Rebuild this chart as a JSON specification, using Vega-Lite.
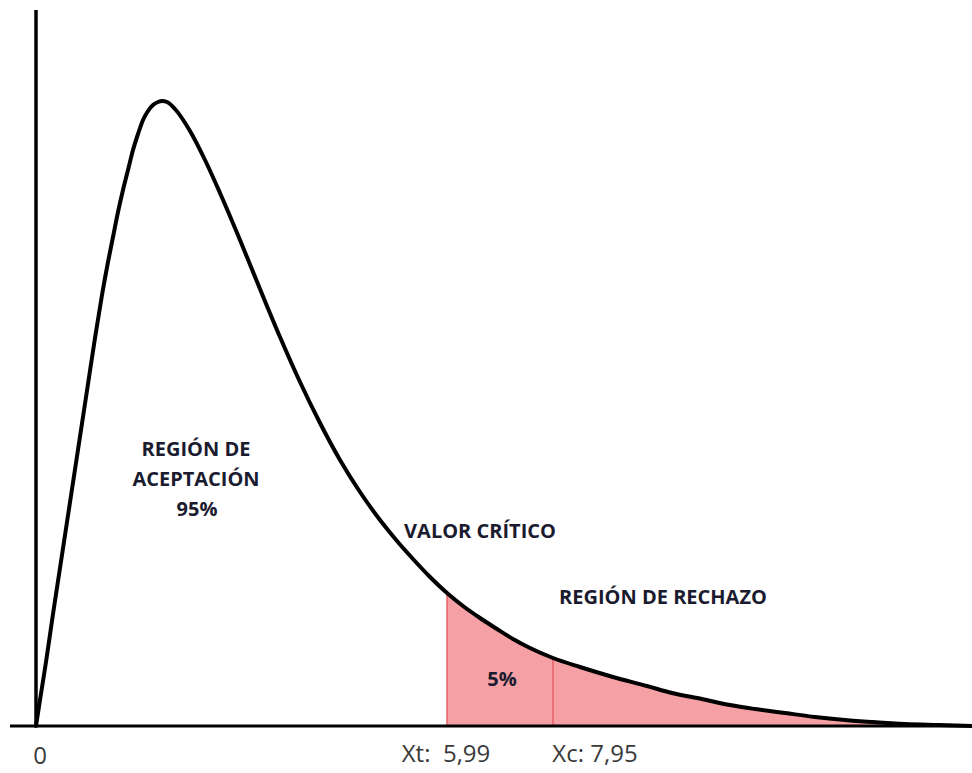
{
  "$schema": "https://vega.github.io/schema/vega-lite/v6.json",
  "width": 936,
  "height": 716,
  "autosize": {"type": "none"},
  "padding": {"left": 36, "top": 10, "right": 0, "bottom": 47},
  "background": "white",
  "config": {"view": {"stroke": null}},
  "datasets": {
    "curve": [
      {"x": 0, "y": 0},
      {"x": 0.04, "y": 0.26},
      {"x": 0.10, "y": 0.64},
      {"x": 0.17, "y": 1.12},
      {"x": 0.24, "y": 1.58},
      {"x": 0.31, "y": 2.04},
      {"x": 0.38, "y": 2.50},
      {"x": 0.45, "y": 2.96},
      {"x": 0.52, "y": 3.42},
      {"x": 0.59, "y": 3.88},
      {"x": 0.66, "y": 4.31},
      {"x": 0.72, "y": 4.64},
      {"x": 0.77, "y": 4.89},
      {"x": 0.82, "y": 5.14},
      {"x": 0.87, "y": 5.36},
      {"x": 0.92, "y": 5.56},
      {"x": 0.97, "y": 5.76},
      {"x": 1.02, "y": 5.92},
      {"x": 1.07, "y": 6.06},
      {"x": 1.12, "y": 6.15},
      {"x": 1.17, "y": 6.21},
      {"x": 1.22, "y": 6.24},
      {"x": 1.26, "y": 6.25},
      {"x": 1.31, "y": 6.24},
      {"x": 1.39, "y": 6.17},
      {"x": 1.54, "y": 5.95},
      {"x": 1.69, "y": 5.66},
      {"x": 1.84, "y": 5.33},
      {"x": 2.04, "y": 4.86},
      {"x": 2.24, "y": 4.37},
      {"x": 2.44, "y": 3.89},
      {"x": 2.64, "y": 3.44},
      {"x": 2.84, "y": 3.03},
      {"x": 3.04, "y": 2.66},
      {"x": 3.24, "y": 2.34},
      {"x": 3.44, "y": 2.06},
      {"x": 3.61, "y": 1.85},
      {"x": 3.77, "y": 1.67},
      {"x": 3.94, "y": 1.49},
      {"x": 4.11, "y": 1.33},
      {"x": 4.27, "y": 1.20},
      {"x": 4.44, "y": 1.08},
      {"x": 4.61, "y": 0.97},
      {"x": 4.77, "y": 0.87},
      {"x": 4.94, "y": 0.78},
      {"x": 5.17, "y": 0.68},
      {"x": 5.44, "y": 0.59},
      {"x": 5.77, "y": 0.49},
      {"x": 6.11, "y": 0.40},
      {"x": 6.36, "y": 0.33},
      {"x": 6.66, "y": 0.27},
      {"x": 6.94, "y": 0.21},
      {"x": 7.19, "y": 0.17},
      {"x": 7.49, "y": 0.13},
      {"x": 7.79, "y": 0.09},
      {"x": 8.09, "y": 0.06},
      {"x": 8.36, "y": 0.04},
      {"x": 8.69, "y": 0.02},
      {"x": 9.03, "y": 0.01},
      {"x": 9.36, "y": 0.0}
    ],
    "cuts": [
      {"x": 4.11, "y": 1.33},
      {"x": 5.17, "y": 0.68}
    ],
    "notes": [
      {"x": 1.6, "y": 2.76, "label": "REGIÓN DE"},
      {"x": 1.6, "y": 2.46, "label": "ACEPTACIÓN"},
      {"x": 1.61, "y": 2.16, "label": "95%"},
      {"x": 4.44, "y": 1.94, "label": "VALOR CRÍTICO"},
      {"x": 6.27, "y": 1.28, "label": "REGIÓN DE RECHAZO"},
      {"x": 4.66, "y": 0.46, "label": "5%"}
    ],
    "ticks": [
      {"x": 0.04, "y": -0.31, "label": "0"},
      {"x": 4.1, "y": -0.29, "label": "Xt:\u00a0 5,99"},
      {"x": 5.59, "y": -0.29, "label": "Xc: 7,95"}
    ],
    "one": [{}]
  },
  "layer": [
    {
      "data": {"name": "curve"},
      "transform": [{"filter": "datum.x >= 4.11"}],
      "mark": {"type": "area", "color": "#f5a0a5", "opacity": 1, "interpolate": "monotone"},
      "encoding": {
        "x": {"field": "x", "type": "quantitative", "scale": {"domain": [0, 9.36], "nice": false, "zero": false}, "axis": null},
        "y": {"field": "y", "type": "quantitative", "scale": {"domain": [0, 7.16], "nice": false, "zero": false}, "axis": null},
        "y2": {"datum": 0}
      }
    },
    {
      "data": {"name": "cuts"},
      "mark": {"type": "rule", "color": "#e8606a", "strokeWidth": 1.5},
      "encoding": {
        "x": {"field": "x", "type": "quantitative"},
        "y": {"field": "y", "type": "quantitative"},
        "y2": {"datum": 0}
      }
    },
    {
      "data": {"name": "curve"},
      "mark": {"type": "line", "color": "black", "strokeWidth": 4, "interpolate": "monotone", "strokeCap": "round", "strokeJoin": "round"},
      "encoding": {
        "x": {"field": "x", "type": "quantitative"},
        "y": {"field": "y", "type": "quantitative"}
      }
    },
    {
      "data": {"name": "one"},
      "mark": {"type": "rule", "color": "black", "strokeWidth": 3},
      "encoding": {
        "x": {"datum": -0.26},
        "x2": {"datum": 9.36},
        "y": {"datum": 0}
      }
    },
    {
      "data": {"name": "one"},
      "mark": {"type": "rule", "color": "black", "strokeWidth": 3.5},
      "encoding": {
        "x": {"datum": 0},
        "y": {"datum": 0},
        "y2": {"datum": 7.16}
      }
    },
    {
      "data": {"name": "notes"},
      "mark": {"type": "text", "font": "Open Sans", "fontWeight": "bold", "fontSize": 20, "color": "#1b1b2f", "align": "center", "baseline": "middle"},
      "encoding": {
        "x": {"field": "x", "type": "quantitative"},
        "y": {"field": "y", "type": "quantitative"},
        "text": {"field": "label"}
      }
    },
    {
      "data": {"name": "ticks"},
      "mark": {"type": "text", "font": "Open Sans", "fontSize": 24, "color": "#3a3a3a", "align": "center", "baseline": "middle"},
      "encoding": {
        "x": {"field": "x", "type": "quantitative"},
        "y": {"field": "y", "type": "quantitative"},
        "text": {"field": "label"}
      }
    }
  ]
}
